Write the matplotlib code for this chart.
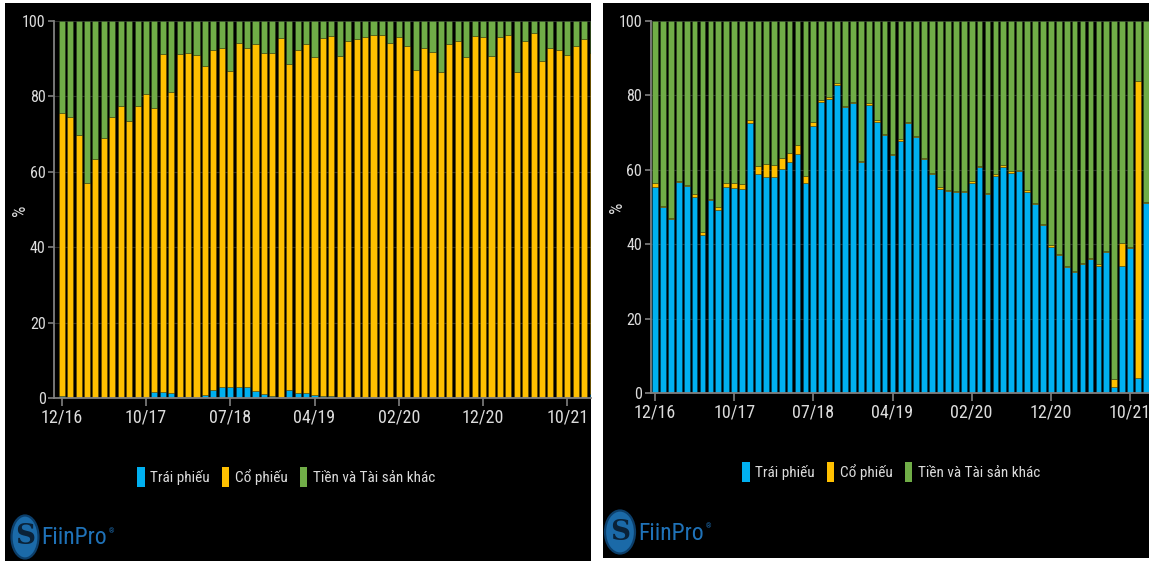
import matplotlib
matplotlib.use("Agg")
import matplotlib.pyplot as plt
from matplotlib import font_manager
from matplotlib.patches import Rectangle, Ellipse, Patch

# ---- data -------------------------------------------------------------
tick_labels = ["12/16", "10/17", "07/18", "04/19", "02/20", "12/20", "10/21"]
series_names = ["Trái phiếu", "Cổ phiếu", "Tiền và Tài sản khác"]
colors = ["#00B0F0", "#FFC000", "#70AD47"]

# Fund A: bond share and bond+stock cumulative share (%)
fund_a_bond = [0.6, 0, 0, 0, 0, 0, 0, 0, 0, 0,
               0, 1.6, 1.8, 1.5, 0.3, 0.3, 0.2, 0.9, 2.2, 2.9,
               2.9, 2.9, 2.9, 2.0, 1.1, 0.6, 0.3, 2.2, 1.5, 1.5,
               1.0, 0.7, 0.5, 0.1, 0.1, 0.1, 0.1, 0.1, 0.1, 0.1,
               0.1, 0.1, 0.1, 0.1, 0.1, 0.4, 0.1, 0.1, 0.1, 0.1,
               0.1, 0.1, 0.1, 0.1, 0.1, 0.1, 0.1, 0.1, 0.1, 0.1,
               0.1, 0.1, 0.1, 1.2]
fund_a_bond_stock = [75.5, 74.6, 69.8, 57.0, 63.4, 68.9, 74.5, 77.5, 73.6, 77.5,
                     80.7, 76.9, 91.2, 81.3, 91.3, 91.6, 91.0, 88.1, 92.3, 92.8,
                     86.7, 94.3, 92.8, 93.8, 91.4, 91.6, 95.6, 88.5, 92.3, 93.8,
                     90.4, 95.4, 96.0, 90.8, 94.8, 95.1, 95.7, 96.3, 96.2, 94.3,
                     95.7, 93.5, 87.0, 92.9, 91.7, 86.6, 93.8, 94.8, 90.4, 96.0,
                     95.7, 90.6, 95.7, 96.2, 86.6, 94.8, 96.8, 89.4, 92.8, 92.3,
                     90.9, 93.4, 95.1, 91.6]
fund_a_stock = [round(t - b, 1) for t, b in zip(fund_a_bond_stock, fund_a_bond)]
fund_a_other = [round(100 - t, 1) for t in fund_a_bond_stock]

# Fund B: bond and stock share (%)
fund_b_bond = [55.3, 50.1, 46.9, 56.8, 55.7, 52.8, 42.4, 51.9, 49.2, 55.3,
               55.1, 54.8, 72.5, 58.9, 58.2, 58.0, 60.2, 62.0, 64.3, 56.6,
               71.9, 78.2, 79.0, 82.8, 77.0, 77.9, 62.2, 77.4, 73.0, 69.4,
               64.0, 67.9, 72.5, 68.9, 62.8, 58.8, 55.0, 54.4, 54.1, 54.0,
               56.6, 60.7, 53.5, 58.5, 60.9, 59.3, 59.6, 54.2, 50.8, 45.3,
               39.4, 37.2, 33.8, 32.5, 34.6, 36.0, 34.3, 38.0, 1.6, 34.3,
               39.1, 4.0, 51.0]
fund_b_stock = [1.1, 0.3, 0.3, 0.3, 0.3, 0.6, 0.8, 0.4, 0.9, 1.1,
                1.5, 1.4, 0.9, 2.2, 3.4, 3.4, 3.0, 2.6, 2.4, 1.8,
                1.0, 0.6, 0.5, 0.5, 0.2, 0.4, 0.3, 0.5, 0.3, 0.3,
                0.3, 0.3, 0.3, 0.3, 0.3, 0.3, 0.3, 0.3, 0.3, 0.3,
                0.3, 0.3, 0.3, 0.3, 0.3, 0.3, 0.3, 0.3, 0.3, 0.3,
                0.3, 0.3, 0.3, 0.3, 0.3, 0.3, 0.3, 0.3, 2.2, 6.0,
                0.2, 79.8, 0.3]
fund_b_other = [round(100 - b - s, 1) for b, s in zip(fund_b_bond, fund_b_stock)]

# ---- fonts: prefer a narrow sans, else Liberation Sans at smaller sizes --
installed = {f.name for f in font_manager.fontManager.ttflist}
narrow = next((n for n in ("Liberation Sans Narrow", "Roboto Condensed",
                           "Open Sans Condensed", "Arial Narrow")
               if n in installed), None)
if narrow:
    FONT = [narrow, "DejaVu Sans"]
    SZ = dict(xt=13, yt=11.5, leg=11, pct=13, logo=17)
else:
    FONT = ["Liberation Sans", "DejaVu Sans"]
    SZ = dict(xt=10.5, yt=8.5, leg=9, pct=11, logo=14)

# ---- figure -------------------------------------------------------------
W, H = 1149, 564
TXT = "#dcdcdc"
AXC = "#808080"

fig = plt.figure(figsize=(W / 100, H / 100), dpi=100, facecolor="white")


def fx(px):
    return px / W


def fy(py):
    return 1 - py / H


def panel_bg(x0, y0, x1, y1):
    fig.add_artist(Rectangle((fx(x0), fy(y1)), (x1 - x0) / W, (y1 - y0) / H,
                             transform=fig.transFigure, facecolor="black",
                             edgecolor="none", zorder=0))


def make_axes(x0, x1, ytop, ybot):
    ax = fig.add_axes([fx(x0), fy(ybot), (x1 - x0) / W, (ybot - ytop) / H])
    ax.set_facecolor("black")
    return ax


def draw_panel(ax, bond, stock, other, bar0_px, step_px, x0_px, x1_px):
    n = len(bond)
    xs = list(range(n))
    bottom2 = [b + s for b, s in zip(bond, stock)]
    kw = dict(width=0.72, edgecolor=(0, 0, 0, 0.25), linewidth=0.5, zorder=3)
    ax.bar(xs, bond, color=colors[0], **kw)
    ax.bar(xs, stock, bottom=bond, color=colors[1], **kw)
    ax.bar(xs, other, bottom=bottom2, color=colors[2], **kw)
    ax.set_xlim((x0_px - bar0_px) / step_px, (x1_px - bar0_px) / step_px)
    ax.set_ylim(0, 100)
    ax.set_xticks(range(0, 10 * len(tick_labels), 10))
    ax.set_xticklabels(tick_labels, fontsize=SZ["xt"], color=TXT, family=FONT)
    ax.set_yticks(range(0, 101, 20))
    ax.set_yticklabels([str(v) for v in range(0, 101, 20)], fontsize=SZ["yt"],
                       color=TXT, family=FONT)
    ax.tick_params(axis="x", length=6, width=1.2, color=AXC, pad=1)
    ax.tick_params(axis="y", length=4, width=1.2, color=AXC, pad=2)
    for s in ("top", "right"):
        ax.spines[s].set_visible(False)
    for s in ("left", "bottom"):
        ax.spines[s].set_color(AXC)
        ax.spines[s].set_linewidth(1.3)
        ax.spines[s].set_zorder(4)
    ax.yaxis.grid(True, color="#2b2b2b", linewidth=0.8)
    ax.set_axisbelow(True)


def legend_at(cx, cy):
    handles = [Patch(facecolor=c, edgecolor="none", label=l)
               for c, l in zip(colors, series_names)]
    fig.legend(handles=handles, loc="center", bbox_to_anchor=(fx(cx), fy(cy)),
               ncol=3, frameon=False, handlelength=0.5, handleheight=1.7,
               handletextpad=0.35, columnspacing=0.8,
               prop={"family": FONT, "size": SZ["leg"]}, labelcolor=TXT)


def logo_at(cx, cy, w, h, text_x):
    fig.add_artist(Ellipse((fx(cx), fy(cy)), w / W, h / H,
                           transform=fig.transFigure, facecolor="#1b6aa8",
                           edgecolor="#0c3f6b", linewidth=1.6, zorder=2))
    fig.text(fx(cx), fy(cy), "S", fontsize=20, family="DejaVu Serif",
             fontweight="bold", color="#0a2238", ha="center", va="center",
             zorder=3)
    t = fig.text(fx(text_x), fy(cy + 1), "FiinPro", fontsize=SZ["logo"],
                 family=FONT, color="#1f72b8", ha="left", va="center", zorder=3)
    fig.canvas.draw()
    bb = t.get_window_extent()
    fig.text(bb.x1 / W + fx(2), bb.y1 / H - 5 / H, "®", fontsize=5,
             family=FONT, color="#1f72b8", ha="left", va="center", zorder=3)


# panel backgrounds
panel_bg(5, 3, 591, 561)
panel_bg(603, 3, 1149, 558)

# left fund
ax1 = make_axes(54, 591, 21, 398.3)
draw_panel(ax1, fund_a_bond, fund_a_stock, fund_a_other, 61.7, 8.427, 54, 591)
fig.text(fx(20), fy(210), "%", rotation=90, fontsize=SZ["pct"], color=TXT,
         family=FONT, ha="center", va="center")
legend_at(286, 477)
logo_at(25, 537, 27, 43, 41)

# right fund
ax2 = make_axes(650.5, 1149, 21, 393.3)
draw_panel(ax2, fund_b_bond, fund_b_stock, fund_b_other, 655, 7.917, 650.5, 1149)
fig.text(fx(617), fy(207), "%", rotation=90, fontsize=SZ["pct"], color=TXT,
         family=FONT, ha="center", va="center")
legend_at(891, 472)
logo_at(620, 532, 30, 43, 638)

fig.savefig("out.png", dpi=100, facecolor="white")
